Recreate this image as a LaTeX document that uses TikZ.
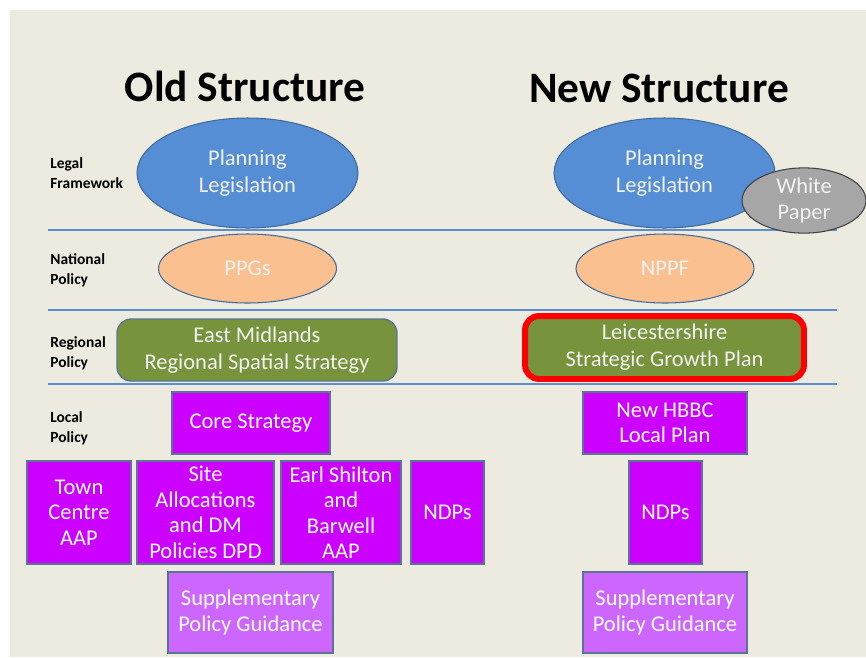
\documentclass[tikz,border=0pt]{standalone}
\usepackage{fontspec}
\setmainfont{Carlito}
\usetikzlibrary{shapes.geometric}
\definecolor{bg}{HTML}{EDEBE0}
\definecolor{sep}{HTML}{5B8FD0}
\definecolor{plblue}{HTML}{558ED5}
\definecolor{plborder}{HTML}{3F6A99}
\definecolor{peach}{HTML}{FAC090}
\definecolor{olive}{HTML}{77933C}
\definecolor{magentabox}{HTML}{CC00FF}
\definecolor{lilac}{HTML}{CC66FF}
\definecolor{boxborder}{HTML}{5A7594}
\definecolor{graypaper}{HTML}{A6A6A6}
\definecolor{lighttext}{HTML}{F2F2F2}
\tikzset{
  title/.style={font=\fontsize{24.7}{28}\selectfont\bfseries, text=black},
  rowlabel/.style={font=\fontsize{8.8}{11.3}\selectfont\bfseries, align=left, anchor=west, inner sep=0pt},
  ell/.style={ellipse, draw=plborder, line width=0.6pt, inner sep=0pt, align=center, text=lighttext, font=\fontsize{12.8}{15.3}\selectfont},
  plell/.style={ell, fill=plblue, minimum width=4.42cm, minimum height=2.2cm},
  natell/.style={ell, fill=peach, minimum width=3.56cm, minimum height=1.38cm},
  regbox/.style={rounded corners=8pt, fill=olive, align=center, text=lighttext, inner sep=0pt, font=\fontsize{12.8}{15.3}\selectfont},
  locbox/.style={rectangle, draw=boxborder, line width=0.7pt, fill=magentabox, text=white, align=center, inner sep=0pt, font=\fontsize{12.8}{14.5}\selectfont},
  suppbox/.style={locbox, fill=lilac},
  sepline/.style={draw=sep, line width=0.6pt}
}
\begin{document}
\begin{tikzpicture}[x=0.02cm, y=-0.02cm]
\useasboundingbox (0,0) rectangle (866,657);
\fill[bg] (10,10) rectangle (866,657);

% titles
\node[title] (oldt) at (245,86) {Old Structure};
\node[title] (newt) at (659,88) {New Structure};

% separator lines
\coordinate (l1a) at (48,230); \coordinate (l1b) at (837,230);
\coordinate (l2a) at (48,310); \coordinate (l2b) at (837,310);
\coordinate (l3a) at (48,384); \coordinate (l3b) at (837,384);
\draw[sepline] (l1a) -- (l1b);
\draw[sepline] (l2a) -- (l2b);
\draw[sepline] (l3a) -- (l3b);

% row labels
\node[rowlabel] (lf) at (50,173) {Legal\\Framework};
\node[rowlabel] (np) at (50,270) {National\\Policy};
\node[rowlabel] (rp) at (50,353) {Regional\\Policy};
\node[rowlabel] (lp) at (50,428) {Local\\Policy};

% ellipses
\node[plell] (oldpl) at (247.5,173) {Planning\\Legislation};
\node[natell] (ppg) at (247.5,268.5) {PPGs};
\node[plell] (newpl) at (664.5,173) {Planning\\Legislation};
\node[ell, fill=graypaper, draw=black!75, minimum width=2.48cm, minimum height=1.16cm] (wp) at (804,200.5) {White\\Paper};
\node[natell] (nppf) at (665,268.5) {NPPF};

% regional
\node[regbox, draw=boxborder, line width=0.8pt, minimum width=5.6cm, minimum height=1.24cm] (emrss) at (257,350) {East Midlands\\Regional Spatial Strategy};
\node[regbox, draw=red, line width=3.4pt, minimum width=5.58cm, minimum height=1.26cm] (lsgp) at (664.5,347.5) {Leicestershire\\Strategic Growth Plan};

% local old
\node[locbox, minimum width=3.16cm, minimum height=1.24cm] (core) at (251,423) {Core Strategy};
\node[locbox, minimum width=2.08cm, minimum height=2.06cm] (town) at (79,512.5) {Town\\Centre\\AAP};
\node[locbox, minimum width=2.74cm, minimum height=2.06cm] (site) at (205.5,512.5) {Site\\Allocations\\and DM\\Policies DPD};
\node[locbox, minimum width=2.4cm, minimum height=2.06cm] (earl) at (341,512.5) {Earl Shilton\\and\\Barwell\\AAP};
\node[locbox, minimum width=1.46cm, minimum height=2.06cm] (ndpold) at (447.5,512.5) {NDPs};
\node[suppbox, minimum width=3.3cm, minimum height=1.62cm] (suppold) at (250.5,612.5) {Supplementary\\Policy Guidance};

% local new
\node[locbox, minimum width=3.28cm, minimum height=1.24cm] (hbbc) at (665,423) {New HBBC\\Local Plan};
\node[locbox, minimum width=1.46cm, minimum height=2.06cm] (ndpnew) at (665.5,512.5) {NDPs};
\node[suppbox, minimum width=3.28cm, minimum height=1.62cm] (suppnew) at (665,612.5) {Supplementary\\Policy Guidance};
\end{tikzpicture}
\end{document}
